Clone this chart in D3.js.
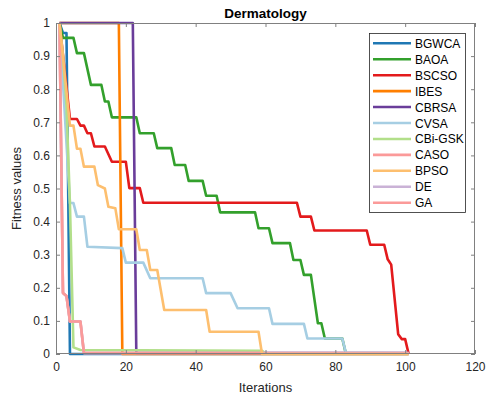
<!DOCTYPE html>
<html>
<head>
<meta charset="utf-8">
<script src="https://cdn.jsdelivr.net/npm/d3@7"></script>
<style>
  body { margin: 0; background: #fff; }
  svg text { font-family: "Liberation Sans", Arial, sans-serif; }
</style>
</head>
<body>
<svg id="chart" width="492" height="398"></svg>
<script>
// breakpoints [iteration, fitness]
var names = ['BGWCA', 'BAOA', 'BSCSO', 'IBES', 'CBRSA', 'CVSA', 'CBi-GSK', 'CASO', 'BPSO', 'DE', 'GA'];
var colors = ['#1f78b4', '#33a02c', '#e31a1c', '#ff7f00', '#6a3d9a', '#a6cee3', '#b2df8a', '#fb9a99', '#fdbf6f', '#cab2d6', '#fb9a99'];

var bgwca = [[1,1],[2,0.97],[3,0.97],[4,0],[101,0]];
var baoa = [[1,1],[2,0.955],[5,0.955],[6,0.909],[8,0.909],[10,0.813],[13,0.813],[14,0.763],[15,0.763],[16,0.715],[23,0.715],[24,0.667],[28,0.667],[29,0.622],[33,0.622],[34,0.571],[37,0.571],[38,0.523],[42,0.523],[43,0.478],[46,0.478],[47,0.428],[57,0.428],[58,0.38],[61,0.38],[62,0.335],[67,0.335],[68,0.284],[70,0.284],[71,0.239],[73,0.239],[75,0.093],[76,0.093],[77,0.047],[82,0.047],[83,0.002],[101,0.002]];
var bscso = [[1,1],[4,0.71],[6,0.71],[7,0.69],[8,0.69],[9,0.667],[10,0.667],[11,0.627],[14,0.627],[16,0.581],[20,0.581],[21,0.501],[24,0.501],[25,0.457],[69,0.457],[70,0.415],[73,0.415],[74,0.373],[89,0.373],[90,0.33],[94,0.33],[95,0.286],[96,0.27],[98,0.06],[99,0.045],[100,0.045],[101,0]];
var ibes = [[1,1],[18,1],[19,0],[101,0]];
var cbrsa = [[1,1],[22,1],[23,0.003],[101,0.003]];
var cvsa = [[1,1],[4,0.456],[5,0.456],[6,0.415],[8,0.415],[9,0.324],[19,0.32],[20,0.276],[25,0.276],[27,0.229],[42,0.229],[43,0.184],[50,0.184],[52,0.138],[61,0.138],[62,0.091],[71,0.091],[72,0.047],[82,0.047],[83,0.004],[101,0.002]];
var cbigsk = [[1,1],[2,0.9],[3,0.75],[4,0.45],[5,0.02],[7,0.012],[59,0.01],[60,0.002],[101,0.002]];
var caso = [[1,1],[2,0.184],[3,0.175],[4,0.098],[7,0.098],[8,0.003],[101,0.003]];
var bpso = [[1,1],[4,0.69],[5,0.69],[6,0.62],[7,0.62],[8,0.566],[11,0.566],[12,0.51],[14,0.5],[15,0.445],[17,0.44],[18,0.377],[23,0.377],[24,0.314],[26,0.314],[27,0.254],[29,0.254],[31,0.133],[43,0.133],[44,0.067],[58,0.067],[59,0],[101,0]];
var de = [[1,1],[2,0.184],[3,0.175],[4,0.098],[7,0.098],[8,0.003],[101,0.003]];
var ga = [[1,1],[2,0.184],[3,0.175],[4,0.098],[7,0.098],[8,0.003],[59,0.003],[60,0.001],[101,0.001]];
var series = [bgwca, baoa, bscso, ibes, cbrsa, cvsa, cbigsk, caso, bpso, de, ga];
// BPSO ends up on top along the bottom edge in the picture
var drawOrder = [0, 1, 2, 3, 4, 5, 6, 7, 9, 10, 8];

var xTicks = [0, 20, 40, 60, 80, 100, 120];
var yTicks = [0, 0.1, 0.2, 0.3, 0.4, 0.5, 0.6, 0.7, 0.8, 0.9, 1];

(function() {
var mLeft = 56, mTop = 23, mRight = 475, mBottom = 354;
var axisCol = '#808080';

var svg = d3.select('#chart');
var x = d3.scaleLinear().domain([0, 120]).range([mLeft, mRight]);
var y = d3.scaleLinear().domain([0, 1]).range([mBottom, mTop]);

svg.append('clipPath').attr('id', 'clip')
  .append('rect')
  .attr('x', mLeft).attr('y', mTop - 2)
  .attr('width', mRight - mLeft).attr('height', mBottom - mTop + 4);

var line = d3.line()
  .x(function(d){ return x(d[0]); })
  .y(function(d){ return y(d[1]); });

svg.append('g')
  .attr('clip-path', 'url(#clip)')
  .selectAll('path')
  .data(drawOrder)
  .enter()
  .append('path')
  .attr('d', function(k){ return line(series[k]); })
  .attr('fill', 'none')
  .attr('stroke', function(k){ return colors[k]; })
  .attr('stroke-width', 2.6)
  .attr('stroke-linejoin', 'round');

// axes, ticks inside like matlab
function styleAxis(g) {
  g.select('.domain').remove();
  g.selectAll('.tick line').attr('stroke', axisCol);
  g.selectAll('.tick text')
    .attr('fill', '#262626')
    .style('font-size', '12px')
    .style('font-family', '"Liberation Sans", Arial, sans-serif');
}

svg.append('g')
  .attr('transform', 'translate(0,' + mBottom + ')')
  .call(d3.axisBottom(x).tickValues(xTicks).tickSize(-4).tickPadding(8).tickFormat(d3.format('d')))
  .call(styleAxis);
svg.append('g')
  .attr('transform', 'translate(0,' + mTop + ')')
  .call(d3.axisTop(x).tickValues(xTicks).tickSize(-4).tickFormat(''))
  .call(styleAxis);
svg.append('g')
  .attr('transform', 'translate(' + mLeft + ',0)')
  .call(d3.axisLeft(y).tickValues(yTicks).tickSize(-4).tickPadding(6).tickFormat(function(d){ return d3.format('~g')(d); }))
  .call(styleAxis);
svg.append('g')
  .attr('transform', 'translate(' + mRight + ',0)')
  .call(d3.axisRight(y).tickValues(yTicks).tickSize(-4).tickFormat(''))
  .call(styleAxis);

svg.append('rect')
  .attr('x', mLeft + 0.5).attr('y', mTop + 0.5)
  .attr('width', mRight - mLeft - 1).attr('height', mBottom - mTop - 1)
  .attr('fill', 'none')
  .attr('stroke', axisCol);

svg.append('text')
  .attr('x', (mLeft + mRight) / 2).attr('y', 18)
  .attr('text-anchor', 'middle')
  .style('font-size', '13.5px').style('font-weight', 'bold')
  .attr('fill', '#000')
  .text('Dermatology');

svg.append('text')
  .attr('x', (mLeft + mRight) / 2).attr('y', 392)
  .attr('text-anchor', 'middle')
  .style('font-size', '13px')
  .attr('fill', '#262626')
  .text('Iterations');

svg.append('text')
  .attr('transform', 'translate(21,' + ((mTop + mBottom) / 2) + ') rotate(-90)')
  .attr('text-anchor', 'middle')
  .style('font-size', '13px')
  .attr('fill', '#262626')
  .text('Fitness values');

// legend
var lg = svg.append('g');
lg.append('rect')
  .attr('x', 369.5).attr('y', 33.5)
  .attr('width', 96).attr('height', 179)
  .attr('fill', '#fff')
  .attr('stroke', '#262626')
  .attr('stroke-width', 0.8);

var item = lg.selectAll('g.item')
  .data(names)
  .enter()
  .append('g')
  .attr('class', 'item')
  .attr('transform', function(d, i){ return 'translate(0,' + (43.3 + i * 15.94) + ')'; });
item.append('line')
  .attr('x1', 373).attr('x2', 411)
  .attr('stroke', function(d, i){ return colors[i]; })
  .attr('stroke-width', 2.6);
item.append('text')
  .attr('x', 415).attr('y', 4.5)
  .style('font-size', '12px')
  .attr('fill', '#000')
  .text(function(d){ return d; });
})();
</script>
</body>
</html>
